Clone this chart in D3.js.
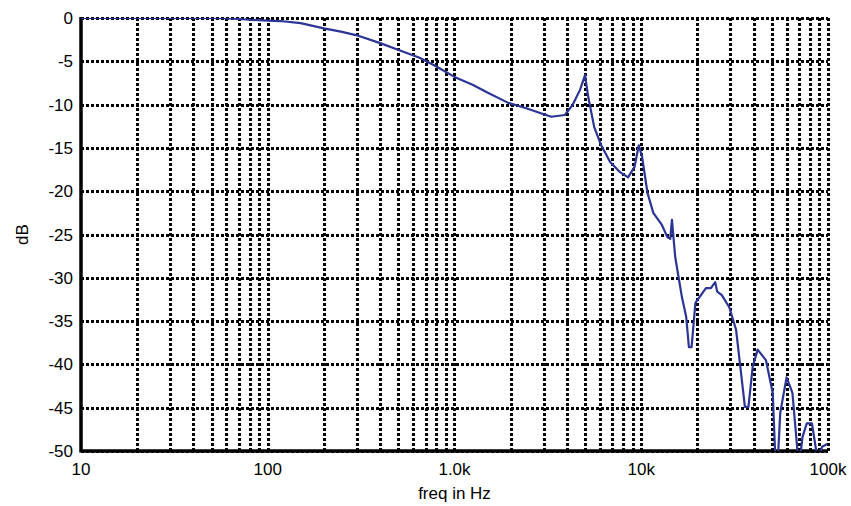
<!doctype html>
<html>
<head>
<meta charset="utf-8"/>
<title>freq response</title>
<script src="https://d3js.org/d3.v7.min.js"></script>
<style>
body { margin: 0; background: #fff; }
text { font-family: "Liberation Sans", Arial, sans-serif; }
</style>
</head>
<body>
<div id="svg01"></div>
<script>
// frequency (Hz) and level (dB)
var freq = [10, 20, 50, 63, 80, 100, 117, 150, 200, 250, 300, 400, 490, 650, 800, 1000,
	1250, 1500, 1940, 2400, 2900, 3300, 3900, 4300, 4700, 5000, 5200, 5600, 6100, 6800,
	7700, 8500, 9200, 9700, 10100, 10800, 11600, 12900, 13800, 14300, 14600, 15200,
	16500, 17400, 18000, 18600, 19500, 22200, 23600, 24900, 25500, 27000, 29600, 32200,
	35900, 37500, 39500, 42000, 46500, 50600, 52500, 53600, 55500, 60000, 64500, 69900,
	73000, 77000, 82000, 88000, 93000, 99000];
var dB = [0, 0, 0, -0.05, -0.2, -0.3, -0.35, -0.6, -1.2, -1.6, -2.0, -2.9, -3.6, -4.6, -5.6, -6.8,
	-7.7, -8.6, -9.8, -10.4, -11.0, -11.4, -11.2, -10.0, -8.3, -6.6, -9.1, -12.6, -14.7, -16.6,
	-17.8, -18.4, -17.2, -14.7, -16.0, -20.2, -22.5, -23.9, -25.3, -25.5, -23.3, -27.6,
	-32.2, -34.5, -38, -38, -32.9, -31.2, -31.2, -30.5, -31.6, -32, -33.4, -36,
	-44.9, -44.9, -40.3, -38.3, -39.5, -43.3, -52, -52, -45.6, -41.5, -43.3, -52,
	-48.4, -46.8, -46.8, -51, -49.5, -49.2];

var xTicks = [10, 100, 1000, 10000, 100000];
var xTickLabels = ["10", "100", "1.0k", "10k", "100k"];
var yTicks = [0, -5, -10, -15, -20, -25, -30, -35, -40, -45, -50];

var W = 851, H = 506;
var L = 81, R = 828, T = 18, B = 451;

var svg = d3.select("#svg01")
	.append("svg")
	.attr("width", W)
	.attr("height", H);

var x = d3.scaleLog().domain([10, 100000]).range([L, R]);
var y = d3.scaleLinear().domain([-50, 0]).range([B, T]);

// minor + major vertical grid
var vlines = [];
for (var d = 10; d < 100000; d *= 10)
	for (var k = 1; k <= 9; k++)
		if (d * k > 10) vlines.push(d * k);
vlines.push(100000);

svg.append("clipPath").attr("id", "clip")
	.append("rect").attr("x", L).attr("y", T).attr("width", R - L).attr("height", B - T);

var grid = svg.append("g").attr("shape-rendering", "crispEdges");
grid.selectAll(".vg").data(vlines).enter().append("line")
	.attr("x1", function(v) { return Math.round(x(v)); })
	.attr("x2", function(v) { return Math.round(x(v)); })
	.attr("y1", T).attr("y2", B)
	.attr("stroke", "black")
	.attr("stroke-width", 3)
	.attr("stroke-dasharray", "3,2");

grid.selectAll(".hg").data(yTicks).enter().append("line")
	.attr("x1", L).attr("x2", R)
	.attr("y1", function(v) { return Math.round(y(v)); })
	.attr("y2", function(v) { return Math.round(y(v)); })
	.attr("stroke", "black")
	.attr("stroke-width", 3)
	.attr("stroke-dasharray", "3,2");

// solid left and bottom axes
svg.append("line").attr("x1", L).attr("x2", L).attr("y1", T - 1).attr("y2", B + 1.5)
	.attr("stroke", "black").attr("stroke-width", 3.5);
svg.append("line").attr("x1", L).attr("x2", R).attr("y1", B).attr("y2", B)
	.attr("stroke", "black").attr("stroke-width", 3.5);

var line = d3.line()
	.x(function(d, i) { return x(freq[i]); })
	.y(function(d) { return y(d); });

svg.append("path")
	.datum(dB)
	.attr("d", line)
	.attr("clip-path", "url(#clip)")
	.attr("fill", "none")
	.attr("stroke", "#2B3595")
	.attr("stroke-width", 2.2)
	.attr("stroke-linejoin", "round");

// tick labels
svg.selectAll(".yl").data(yTicks).enter().append("text")
	.attr("x", L - 8)
	.attr("y", function(v) { return y(v) + 6; })
	.attr("text-anchor", "end")
	.attr("font-size", 17)
	.text(function(v) { return v; });

svg.selectAll(".xl").data(xTicks).enter().append("text")
	.attr("x", function(v) { return x(v); })
	.attr("y", B + 24)
	.attr("text-anchor", "middle")
	.attr("font-size", 17)
	.text(function(v, i) { return xTickLabels[i]; });

svg.append("text")
	.attr("x", (L + R) / 2)
	.attr("y", 499)
	.attr("text-anchor", "middle")
	.attr("font-size", 17)
	.text("freq in Hz");

svg.append("text")
	.attr("transform", "translate(28," + ((T + B) / 2) + ") rotate(-90)")
	.attr("text-anchor", "middle")
	.attr("font-size", 17)
	.text("dB");
</script>
</body>
</html>
